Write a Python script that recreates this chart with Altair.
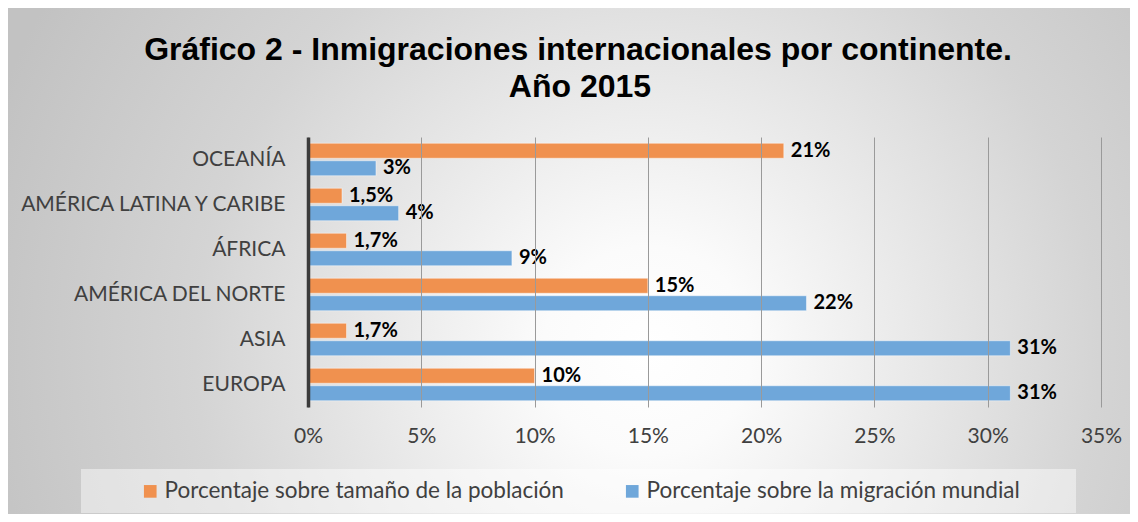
import altair as alt
import pandas as pd

# ---- data ----
categories = ["OCEANÍA", "AMÉRICA LATINA Y CARIBE", "ÁFRICA", "AMÉRICA DEL NORTE", "ASIA", "EUROPA"]
series = ["Porcentaje sobre tamaño de la población", "Porcentaje sobre la migración mundial"]
pop_values = [21, 1.5, 1.7, 15, 1.7, 10]
mig_values = [3, 4, 9, 22, 31, 31]
pop_labels = ["21%", "1,5%", "1,7%", "15%", "1,7%", "10%"]
mig_labels = ["3%", "4%", "9%", "22%", "31%", "31%"]
x_ticks = [0, 5, 10, 15, 20, 25, 30, 35]
title_lines = ["Gráfico 2 - Inmigraciones internacionales por continente.", "Año 2015"]
colors = ["#F0914F", "#6FA7DA"]

rows = []
for c, pv, pl, mv, ml in zip(categories, pop_values, pop_labels, mig_values, mig_labels):
    rows.append({"category": c, "series": series[0], "value": pv, "label": pl})
    rows.append({"category": c, "series": series[1], "value": mv, "label": ml})
df = pd.DataFrame(rows)

W, H = 793, 270
PAD_L, PAD_T = 300, 129
TOTAL_W, TOTAL_H = 1122, 506

FONT = "Lato"
TXT = "#404040"

gradient = alt.RadialGradient(
    gradient="radial",
    stops=[
        alt.GradientStop(color="#ffffff", offset=0),
        alt.GradientStop(color="#fbfbfb", offset=0.15),
        alt.GradientStop(color="#d4d4d4", offset=0.65),
        alt.GradientStop(color="#c2c2c2", offset=1),
    ],
    x1=0.57, y1=0.58, x2=0.57, y2=0.58, r1=0, r2=0.62,
)

bg = alt.Chart(alt.Data(values=[{"k": 1}])).mark_rect(fill=gradient).encode(
    x=alt.value(-PAD_L), x2=alt.value(TOTAL_W - PAD_L),
    y=alt.value(-PAD_T), y2=alt.value(TOTAL_H - PAD_T),
)

legend_box = alt.Chart(alt.Data(values=[{"k": 1}])).mark_rect(
    fill="#ffffff", fillOpacity=0.45
).encode(
    x=alt.value(81 - 308), x2=alt.value(1076 - 308),
    y=alt.value(469 - 137), y2=alt.value(513 - 137),
)

title1 = alt.Chart(alt.Data(values=[{"t": title_lines[0]}])).mark_text(
    font="Liberation Sans", fontSize=32, fontWeight="bold", color="black",
    align="center", baseline="alphabetic",
).encode(text="t:N", x=alt.value(578 - 308), y=alt.value(59.5 - 137))

title2 = alt.Chart(alt.Data(values=[{"t": title_lines[1]}])).mark_text(
    font="Liberation Sans", fontSize=32, fontWeight="bold", color="black",
    align="center", baseline="alphabetic",
).encode(text="t:N", x=alt.value(580 - 308), y=alt.value(97 - 137))

x_enc = alt.X(
    "value:Q",
    scale=alt.Scale(domain=[0, 35], nice=False),
    axis=alt.Axis(
        values=x_ticks, labelExpr="datum.value + '%'", title=None,
        domain=False, ticks=False, grid=True, gridColor="#9a9a9a", gridWidth=1,
        labelFont=FONT, labelFontSize=21, labelColor=TXT, labelPadding=18,
        labelFlush=False, zindex=1,
    ),
)
y_enc = alt.Y(
    "category:N", sort=categories,
    scale=alt.Scale(paddingInner=0.278, paddingOuter=0.139),
    axis=alt.Axis(
        title=None, ticks=False, grid=False, domainColor="#3b3b3b", domainWidth=3.5,
        labelFont=FONT, labelFontSize=21, labelColor=TXT, labelPadding=23,
        labelLimit=0, zindex=1,
    ),
)
yoff_enc = alt.YOffset("series:N", sort=series, scale=alt.Scale(paddingInner=0.143, paddingOuter=0))

bars = alt.Chart(df).mark_bar(stroke="#ffffff", strokeOpacity=0.45, strokeWidth=1).encode(
    x=x_enc, y=y_enc, yOffset=yoff_enc,
    color=alt.Color(
        "series:N",
        scale=alt.Scale(domain=series, range=colors),
        legend=alt.Legend(
            orient="none", legendX=139 - 308, legendY=480 - 137, direction="horizontal",
            title=None, symbolType="square", symbolSize=160, symbolStrokeWidth=0,
            labelFont=FONT, labelFontSize=22.5, labelColor=TXT, labelOffset=3,
            labelLimit=0, columnPadding=57, padding=0,
        ),
    ),
)

labels = alt.Chart(df).mark_text(
    align="left", baseline="middle", dx=7, font=FONT, fontWeight="bold",
    fontSize=20, color="black",
).encode(
    x=alt.X("value:Q"), y=alt.Y("category:N", sort=categories), yOffset=alt.YOffset("series:N", sort=series),
    text="label:N",
)

chart = alt.layer(bg, legend_box, title1, title2, bars, labels).properties(
    width=W, height=H,
    autosize=alt.AutoSizeParams(type="none"),
    padding={"left": PAD_L, "top": PAD_T, "right": TOTAL_W - PAD_L - W, "bottom": TOTAL_H - PAD_T - H},
).configure_view(stroke=None)

chart.save("out.html", embed_options={"renderer": "svg", "actions": False})
